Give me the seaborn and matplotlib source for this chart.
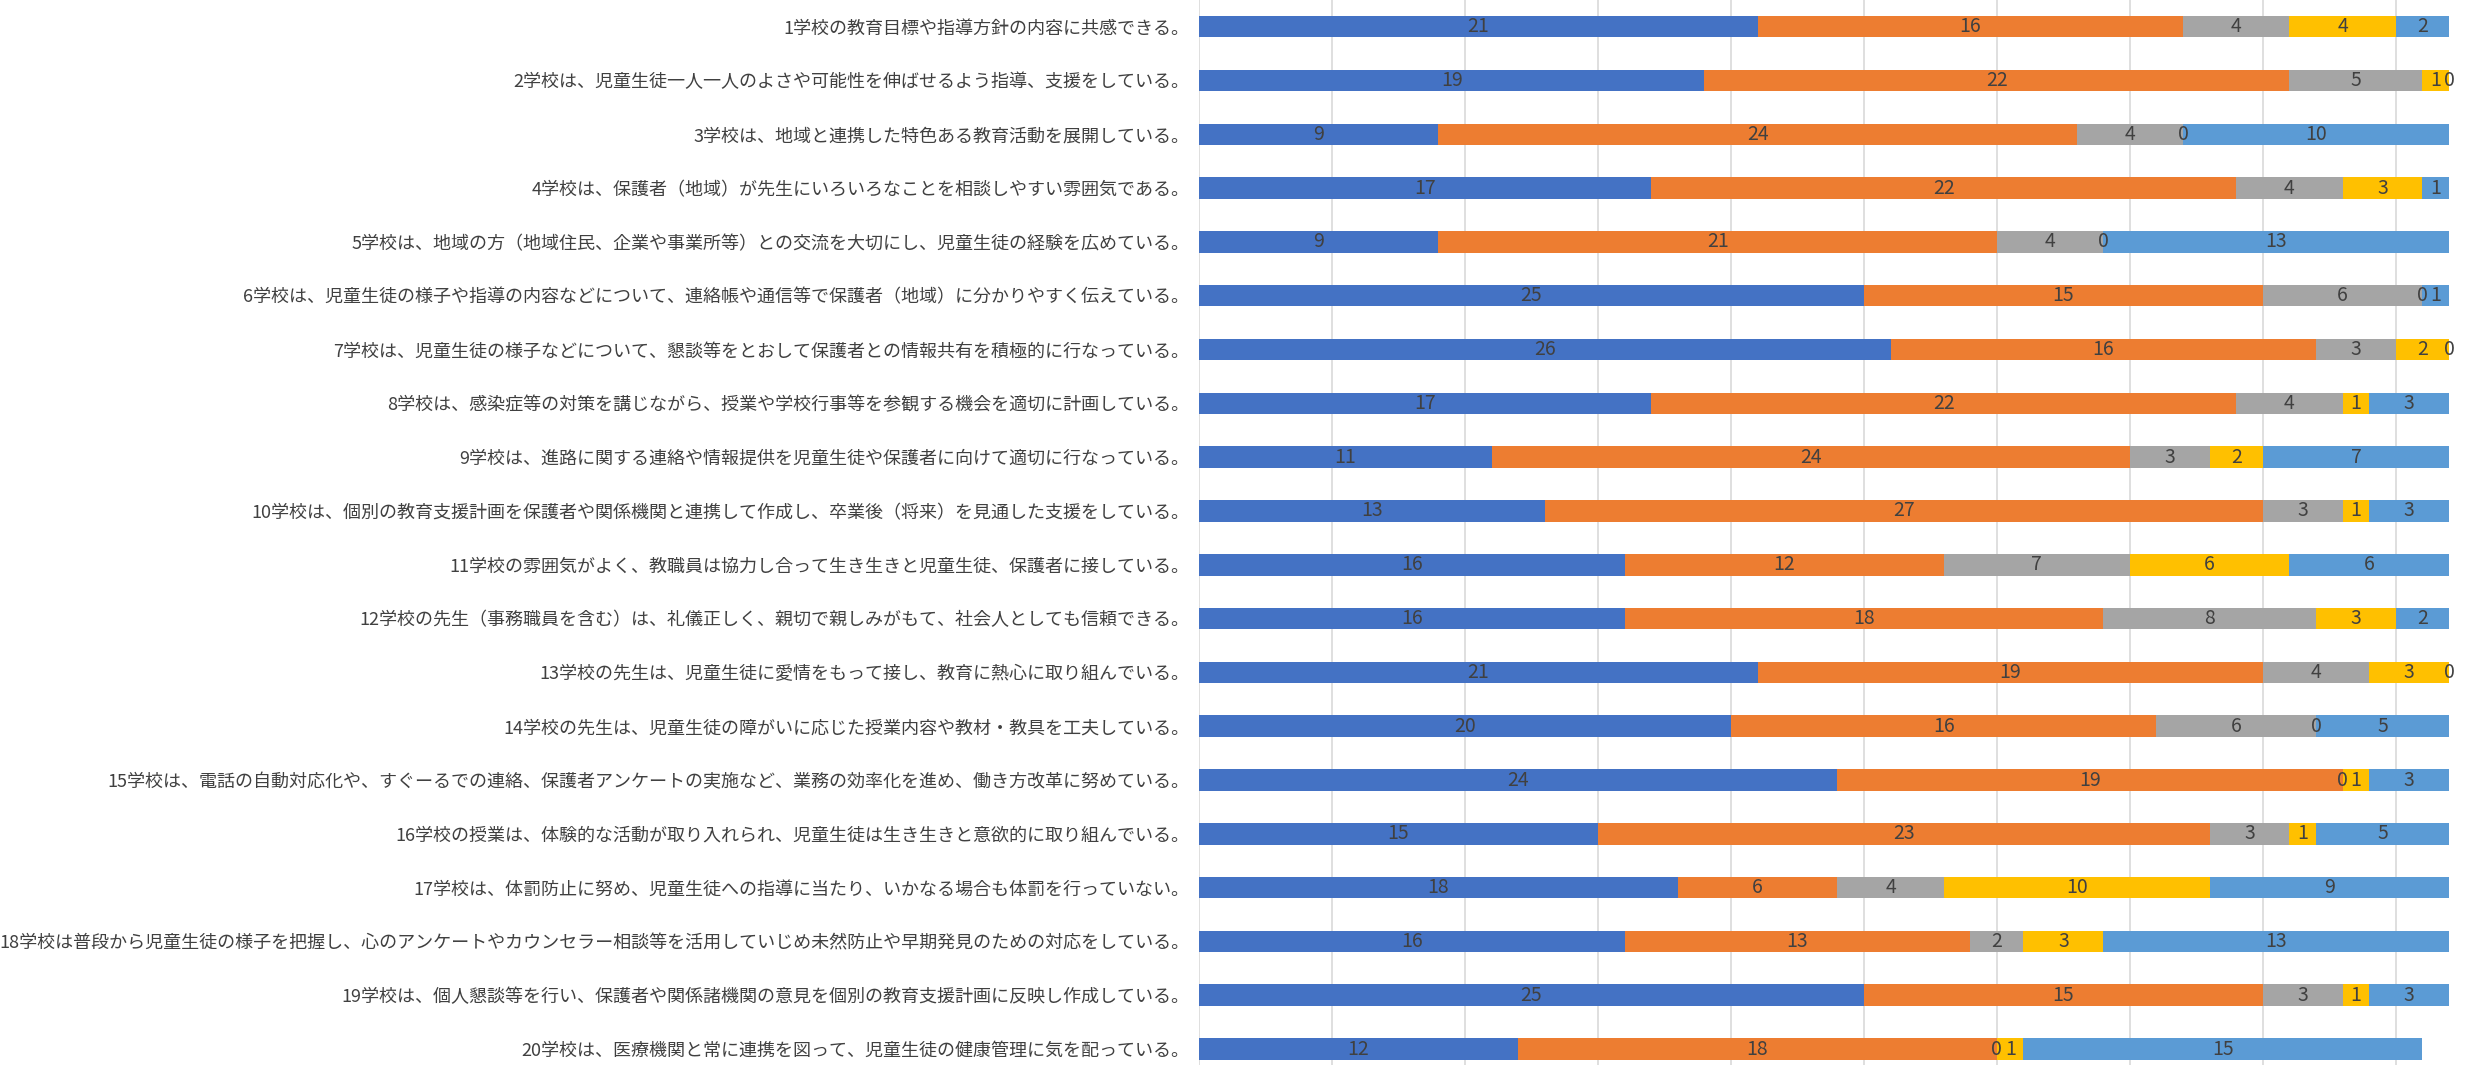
import matplotlib
matplotlib.use("Agg")
import matplotlib.pyplot as plt
import numpy as np
import pandas as pd
import seaborn as sns

# Survey items (school evaluation questionnaire)
questions = [
    "1学校の教育目標や指導方針の内容に共感できる。",
    "2学校は、児童生徒一人一人のよさや可能性を伸ばせるよう指導、支援をしている。",
    "3学校は、地域と連携した特色ある教育活動を展開している。",
    "4学校は、保護者（地域）が先生にいろいろなことを相談しやすい雰囲気である。",
    "5学校は、地域の方（地域住民、企業や事業所等）との交流を大切にし、児童生徒の経験を広めている。",
    "6学校は、児童生徒の様子や指導の内容などについて、連絡帳や通信等で保護者（地域）に分かりやすく伝えている。",
    "7学校は、児童生徒の様子などについて、懇談等をとおして保護者との情報共有を積極的に行なっている。",
    "8学校は、感染症等の対策を講じながら、授業や学校行事等を参観する機会を適切に計画している。",
    "9学校は、進路に関する連絡や情報提供を児童生徒や保護者に向けて適切に行なっている。",
    "10学校は、個別の教育支援計画を保護者や関係機関と連携して作成し、卒業後（将来）を見通した支援をしている。",
    "11学校の雰囲気がよく、教職員は協力し合って生き生きと児童生徒、保護者に接している。",
    "12学校の先生（事務職員を含む）は、礼儀正しく、親切で親しみがもて、社会人としても信頼できる。",
    "13学校の先生は、児童生徒に愛情をもって接し、教育に熱心に取り組んでいる。",
    "14学校の先生は、児童生徒の障がいに応じた授業内容や教材・教具を工夫している。",
    "15学校は、電話の自動対応化や、すぐーるでの連絡、保護者アンケートの実施など、業務の効率化を進め、働き方改革に努めている。",
    "16学校の授業は、体験的な活動が取り入れられ、児童生徒は生き生きと意欲的に取り組んでいる。",
    "17学校は、体罰防止に努め、児童生徒への指導に当たり、いかなる場合も体罰を行っていない。",
    "18学校は普段から児童生徒の様子を把握し、心のアンケートやカウンセラー相談等を活用していじめ未然防止や早期発見のための対応をしている。",
    "19学校は、個人懇談等を行い、保護者や関係諸機関の意見を個別の教育支援計画に反映し作成している。",
    "20学校は、医療機関と常に連携を図って、児童生徒の健康管理に気を配っている。",
]

# Response counts per answer category
resp_a = [21, 19, 9, 17, 9, 25, 26, 17, 11, 13, 16, 16, 21, 20, 24, 15, 18, 16, 25, 12]
resp_b = [16, 22, 24, 22, 21, 15, 16, 22, 24, 27, 12, 18, 19, 16, 19, 23, 6, 13, 15, 18]
resp_c = [4, 5, 4, 4, 4, 6, 3, 4, 3, 3, 7, 8, 4, 6, 0, 3, 4, 2, 3, 0]
resp_d = [4, 1, 0, 3, 0, 0, 2, 1, 2, 1, 6, 3, 3, 0, 1, 1, 10, 3, 1, 1]
resp_e = [2, 0, 10, 1, 13, 1, 0, 3, 7, 3, 6, 2, 0, 5, 3, 5, 9, 13, 3, 15]

series = [resp_a, resp_b, resp_c, resp_d, resp_e]
colors = ["#4472C4", "#ED7D31", "#A5A5A5", "#FFC000", "#5B9BD5"]

sns.set_theme(style="white")
plt.rcParams["font.family"] = ["Noto Sans CJK JP", "DejaVu Sans"]

W, H = 2465, 1065
fig = plt.figure(figsize=(W / 100, H / 100), dpi=100)
ax = fig.add_axes([0.4864, -0.0103, 0.5136, 1.0105])

vals = np.array(series, dtype=float)
cum = np.cumsum(vals, axis=0)

# Stacked bars: draw cumulative totals from the outermost segment inward
for k in range(len(series) - 1, -1, -1):
    df = pd.DataFrame({"q": questions, "v": cum[k]})
    sns.barplot(data=df, x="v", y="q", orient="h", order=questions,
                color=colors[k], saturation=1, width=0.4, linewidth=0,
                ax=ax, zorder=2)

# Value labels centred in each segment
for k in range(len(series)):
    start = cum[k] - vals[k]
    for i in range(len(questions)):
        ax.text(start[i] + vals[k][i] / 2, i, f"{int(vals[k][i])}",
                ha="center", va="center", fontsize=14, color="#404040",
                zorder=5)

ax.set_xlim(0, 47.6)
ax.set_ylim(len(questions) - 0.5, -0.5)
ax.set_xticks(np.arange(0, 50, 5))
ax.set_xticklabels([])
ax.grid(axis="x", color="#D9D9D9", linewidth=1.2, zorder=0)
ax.grid(axis="y", visible=False)
ax.set_axisbelow(True)
ax.set_xlabel("")
ax.set_ylabel("")
for s in ax.spines.values():
    s.set_visible(False)
ax.tick_params(axis="y", length=0, pad=7, labelsize=13, labelcolor="#404040")
ax.tick_params(axis="x", length=0)

fig.savefig("out.png", dpi=100, facecolor="white")
